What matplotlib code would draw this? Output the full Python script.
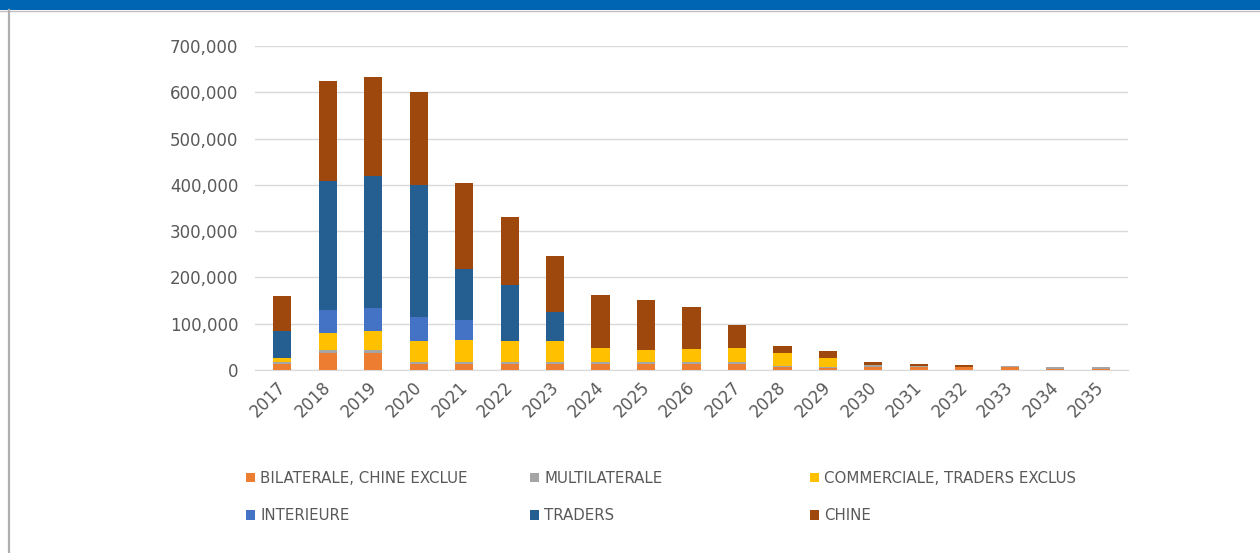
import numpy as np
import matplotlib
matplotlib.use("Agg")
import matplotlib.pyplot as plt
from matplotlib.patches import Rectangle
from matplotlib.ticker import FuncFormatter
import matplotlib.transforms as mtransforms

years = [str(y) for y in range(2017, 2036)]

# service de la dette par créancier (USD)
bilaterale = [14000, 37000, 36000, 13000, 13000, 13000, 13000, 13000, 13000, 13000,
              12000, 6000, 4000, 7000, 6000, 6000, 7000, 2000, 2000]
multilaterale = [4000, 6000, 7000, 5000, 5000, 5000, 5000, 5000, 5000, 5000,
                 6000, 3000, 2000, 3000, 3000, 1000, 2000, 4000, 4000]
commerciale = [9000, 38000, 42000, 45000, 47000, 45000, 45000, 29000, 25000, 27000,
               29000, 27000, 19000, 1000, 0, 0, 0, 0, 0]
interieure = [0, 49000, 48000, 51000, 44000, 0, 0, 0, 0, 0,
              0, 0, 0, 0, 0, 0, 0, 0, 0]
traders = [57000, 279000, 286000, 286000, 109000, 121000, 63000, 0, 0, 0,
           0, 0, 0, 0, 0, 0, 0, 0, 0]
chine = [76000, 215000, 215000, 201000, 187000, 146000, 121000, 114000, 108000, 92000,
         51000, 16000, 15000, 7000, 5000, 4000, 0, 0, 0]

series = [
    ("BILATERALE, CHINE EXCLUE", bilaterale, "#ED7D31"),
    ("MULTILATERALE", multilaterale, "#A5A5A5"),
    ("COMMERCIALE, TRADERS EXCLUS", commerciale, "#FFC000"),
    ("INTERIEURE", interieure, "#4472C4"),
    ("TRADERS", traders, "#255E91"),
    ("CHINE", chine, "#9E480E"),
]

txt = "#595959"
fig = plt.figure(figsize=(12.6, 5.53), dpi=100)

# bandeau bleu + cadre
fig.patches.append(Rectangle((0, 1 - 9.5 / 553), 1, 9.5 / 553, transform=fig.transFigure,
                             facecolor="#0065B3", edgecolor="none", zorder=0))
fig.lines.append(plt.Line2D([0, 1], [1 - 10.5 / 553] * 2, transform=fig.transFigure,
                            color="#BFBFBF", lw=1))
fig.lines.append(plt.Line2D([8.5 / 1260] * 2, [0, 1 - 10 / 553], transform=fig.transFigure,
                            color="#AFAFAF", lw=1.6))

ax = fig.add_axes([255 / 1260, (553 - 370) / 553, 873 / 1260, 324 / 553])
x = np.arange(len(years))
bottom = np.zeros(len(years))
bars = []
for name, vals, col in series:
    b = ax.bar(x, vals, 0.4, bottom=bottom, color=col, label=name, zorder=3)
    bars.append(b)
    bottom += np.array(vals)

ax.set_xlim(-0.6, len(years) - 0.4)
ax.set_ylim(0, 700000)
ax.set_yticks(np.arange(0, 700001, 100000))
ax.yaxis.set_major_formatter(FuncFormatter(lambda v, p: f"{int(v):,}"))
ax.grid(axis="y", color="#D9D9D9", lw=1, zorder=0)
for s in ["top", "right", "left"]:
    ax.spines[s].set_visible(False)
ax.spines["bottom"].set_color("#D9D9D9")
ax.tick_params(length=0, colors=txt, labelsize=12)
ax.tick_params(axis="y", pad=12)
ax.set_xticks(x)
ax.set_xticklabels(years, rotation=45, ha="right", fontsize=12)
off = mtransforms.ScaledTranslation(7 / 100, -3 / 100, fig.dpi_scale_trans)
for lab in ax.get_xticklabels():
    lab.set_transform(lab.get_transform() + off)

# légende en trois colonnes
cols_x = [246, 530, 810]
for i, cx in enumerate(cols_x):
    hs = [bars[i], bars[i + 3]]
    lg = fig.legend(hs, [series[i][0], series[i + 3][0]], loc="upper left",
                    bbox_to_anchor=(cx / 1260, (553 - 471) / 553), frameon=False,
                    fontsize=10.8, labelcolor=txt, handlelength=0.6, handleheight=0.6,
                    handletextpad=0.35, labelspacing=1.5, borderpad=0, borderaxespad=0)

fig.savefig("out.png", dpi=100, facecolor="white")
